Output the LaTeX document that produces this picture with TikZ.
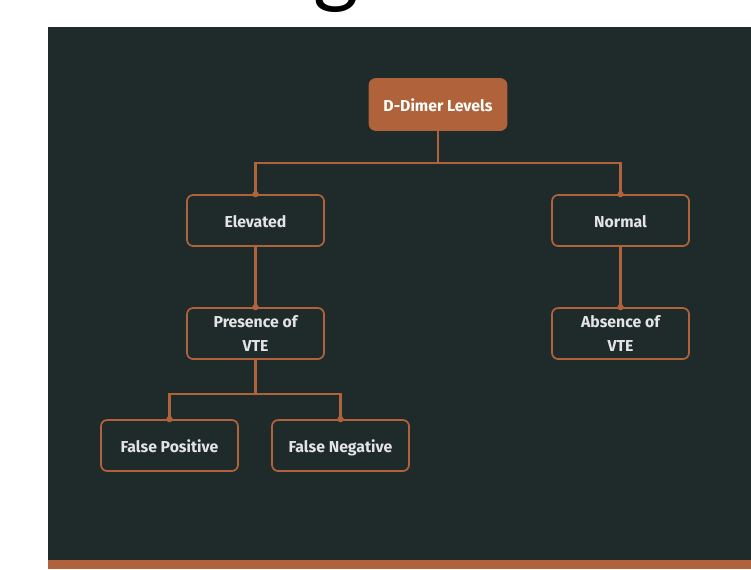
\documentclass[tikz,border=0pt]{standalone}
\usepackage{fontspec}
\setmainfont{Fira Sans}
\newfontfamily\titlefont{Lato}
\definecolor{panel}{HTML}{1F2A2B}
\definecolor{rust}{HTML}{B0623A}
\definecolor{ink}{HTML}{E4E4E4}
\begin{document}
\begin{tikzpicture}[x=0.02cm, y=-0.02cm,
    box/.style={draw=rust, line width=1pt, rounded corners=3.5pt, fill=panel,
        minimum width=2.74cm, minimum height=1.02cm, align=center, text=ink,
        font=\bfseries\fontsize{9}{13.6}\selectfont},
    row/.style={box, text height=0.9em, text depth=0.1em},
    link/.style={draw=rust, line width=1.2pt},
    dot/.style={fill=rust}]
    \useasboundingbox (0,0) rectangle (751,569);
    \fill[white] (0,0) rectangle (751,569);
    \node[anchor=south, inner sep=0, font=\titlefont\fontsize{50}{50}\selectfont] (ttl) at (336.5,12.7) {g};
    \fill[panel] (48,27) rectangle (751,569);
    \fill[rust] (48,560) rectangle (751,569);
    % tree
    \node[row, fill=rust, text=white] (root) at (438,104.5) {D-Dimer Levels};
    \node[row] (elev) at (255.5,220.5) {Elevated};
    \node[row] (norm) at (620.5,220.5) {Normal};
    \node[box] (pres) at (255.5,333.5) {Presence of\\VTE};
    \node[box] (abs) at (620.5,333.5) {Absence of\\VTE};
    \node[row] (fpos) at (169.5,445.5) {False Positive};
    \node[row] (fneg) at (340.5,445.5) {False Negative};
    \draw[link] (root.south) -- ++(0,32) -| (elev.north);
    \draw[link] (root.south) -- ++(0,32) -| (norm.north);
    \draw[link] (elev) -- (pres);
    \draw[link] (norm) -- (abs);
    \draw[link] (pres.south) -- ++(0,34) -| (fpos.north);
    \draw[link] (pres.south) -- ++(0,34) -| (fneg.north);
    \foreach \n in {elev,norm,pres,abs,fpos,fneg}
        \fill[dot] (\n.north) circle (1.8pt);
\end{tikzpicture}
\end{document}
